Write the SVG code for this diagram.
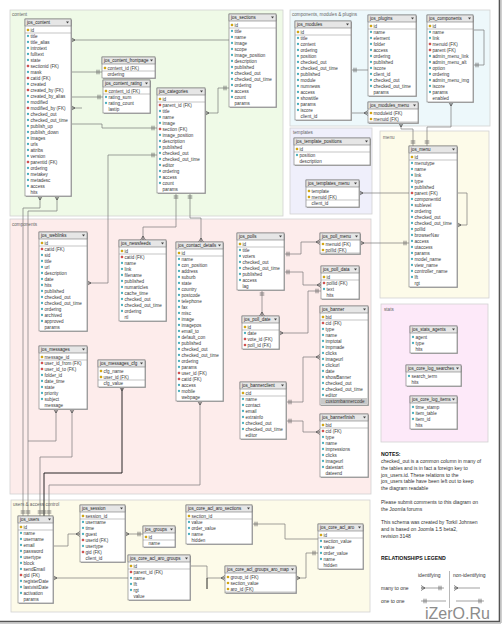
<svg xmlns="http://www.w3.org/2000/svg" width="504" height="629" viewBox="0 0 504 629">
<style>
text{font-family:"Liberation Sans",Arial,sans-serif}
.rg{stroke:#d2d2d2;stroke-width:.8}
.ht{font-size:4.5px;fill:#222}
.r{font-size:4.6px;fill:#3a3a3a}
.lb{font-size:4.6px;fill:#666}
.nt{font-size:5px;fill:#333}
.bd{font-size:5.2px;font-weight:bold;fill:#111}
.b{fill:#fff;stroke:#767676;stroke-width:.6}
.sh{fill:#b0b0b0}
.h{fill:#e6e6e6;stroke:#767676;stroke-width:.6}
.tr{fill:#444}
.s{stroke:#888;stroke-width:.5}
.d{stroke:#4aaebd;stroke-width:2.3;stroke-linecap:round;stroke-dasharray:0 6;fill:none}
.k{fill:#d2a514}
.f{fill:#d05050}
.c{fill:none;stroke:#7a7a7a;stroke-width:.7}
.cb{fill:none;stroke:#111;stroke-width:.9}
.mk{fill:none;stroke:#555;stroke-width:.7}
</style>
<defs>
<marker id="one" viewBox="-8 -4 10 8" markerWidth="10" markerHeight="8" refX="0" refY="0" orient="auto-start-reverse" markerUnits="userSpaceOnUse" overflow="visible"><path class="mk" d="M-3,-2.3V2.3M-5,-2.3V2.3"/></marker>
<marker id="many" viewBox="-8 -4 10 8" markerWidth="10" markerHeight="8" refX="0" refY="0" orient="auto-start-reverse" markerUnits="userSpaceOnUse" overflow="visible"><path class="mk" d="M0,-2.5L-4,0L0,2.5M-4,0H0"/></marker>
</defs>
<rect width="504" height="629" fill="#fff"/>
<g id="regions">
<rect class="rg" x="10" y="10" width="273" height="206" fill="#effae7"/>
<rect class="rg" x="290" y="10" width="200" height="116" fill="#edf8fb"/>
<rect class="rg" x="290" y="128" width="82" height="86" fill="#efeffb"/>
<rect class="rg" x="380" y="131" width="109" height="167" fill="#fdfbe9"/>
<rect class="rg" x="10" y="219" width="361" height="275" fill="#fdeceb"/>
<rect class="rg" x="381" y="304" width="107" height="138" fill="#fde9f9"/>
<rect class="rg" x="11" y="500" width="359" height="112" fill="#fdfbe9"/>
<text class="lb" x="12" y="16">content</text>
<text class="lb" x="292" y="16">components, modules &amp; plugins</text>
<text class="lb" x="293" y="134">templates</text>
<text class="lb" x="383" y="139">menu</text>
<text class="lb" x="12" y="226">components</text>
<text class="lb" x="384" y="311">stats</text>
<text class="lb" x="13" y="506">users &amp; access control</text>
</g>
<g id="connectors">
<path class="c" d="M71,40H229" marker-start="url(#many)"/>
<path class="c" d="M71,72H102" marker-end="url(#one)"/>
<path class="c" d="M71,97H103" marker-end="url(#one)"/>
<path class="c" d="M71,108H82" marker-start="url(#many)"/>
<path class="c" d="M71,124H102V128H157" marker-end="url(#one)"/>
<path class="c" d="M87,283H108V155H157" marker-start="url(#many)" marker-end="url(#one)"/>
<path class="c" d="M143,240V227H176V193" marker-start="url(#many)" marker-end="url(#one)"/>
<path class="c" d="M201,242V218H190V193" marker-start="url(#many)" marker-end="url(#one)"/>
<path class="c" d="M205,113H218V88H229" marker-start="url(#many)" marker-end="url(#one)"/>
<path class="c" d="M284,254H301V242H320" marker-start="url(#one)" marker-end="url(#many)"/>
<path class="c" d="M284,272H303V285H321" marker-start="url(#one)" marker-end="url(#many)"/>
<path class="c" d="M279,333H308V291H321" marker-start="url(#many)" marker-end="url(#one)"/>
<path class="c" d="M262,290V316" marker-start="url(#one)" marker-end="url(#many)"/>
<path class="c" d="M409,243H360" marker-start="url(#one)" marker-end="url(#many)"/>
<path class="c" d="M359,193H409" marker-start="url(#many)"/>
<path class="c" d="M457,193H467V225H457" marker-end="url(#many)"/>
<path class="c" d="M351,113H368" marker-end="url(#many)"/>
<path class="c" d="M351,70H368" marker-start="url(#one)"/>
<path class="c" d="M473,30H484V65H473" marker-end="url(#one)"/>
<path class="c" d="M401,123V129H413V146" marker-start="url(#many)" marker-end="url(#one)"/>
<path class="c" d="M451,102V127H427V146" marker-start="url(#many)" marker-end="url(#one)"/>
<path class="c" d="M286,402H303V357H320" marker-start="url(#one)" marker-end="url(#many)"/>
<path class="c" d="M286,421H303V432H320" marker-start="url(#one)" marker-end="url(#many)"/>
<path class="c" d="M40,196V208H23V516" marker-start="url(#many)" marker-end="url(#one)"/>
<path class="c" d="M57,196V211H28V516" marker-start="url(#many)" marker-end="url(#one)"/>
<path class="c" d="M72,409V457H40V516" marker-start="url(#many)" marker-end="url(#one)"/>
<path class="c" d="M56,409V441H28" marker-start="url(#many)"/>
<path class="cb" d="M122,387V473H44V516" marker-start="url(#many)" marker-end="url(#one)"/>
<path class="c" d="M200,401V485H49V516" marker-start="url(#many)" marker-end="url(#one)"/>
<path class="c" d="M80,534H68V546H53" marker-start="url(#many)"/>
<path class="c" d="M125,534H143" marker-start="url(#many)" marker-end="url(#one)"/>
<path class="c" d="M53,578H128" marker-start="url(#many)"/>
<path class="c" d="M190,566H207V578H225" marker-end="url(#many)"/>
<path class="cb" d="M207,578V589"/>
<path class="c" d="M296,578H306V553H318" marker-start="url(#many)" marker-end="url(#one)"/>
<path class="c" d="M252,524H285V539H318" marker-start="url(#one)"/>
</g>
<g id="jos_content" transform="translate(25,19)"><rect class="sh" x="1" y="1" width="46" height="177"/><rect class="b" width="46" height="177"/><rect class="h" width="46" height="7"/><path class="tr" d="M41,2.5h3l-1.5,2z"/><text class="ht" x="2" y="5.2">jos_content</text><line class="s" x1="0" y1="14" x2="46" y2="14"/><line class="d" x1="3" y1="11" x2="3" y2="173"/><circle class="k" cx="3" cy="11" r="1.3"/><circle class="f" cx="3" cy="47" r="1.3"/><circle class="f" cx="3" cy="59" r="1.3"/><circle class="f" cx="3" cy="71" r="1.3"/><circle class="f" cx="3" cy="89" r="1.3"/><circle class="f" cx="3" cy="143" r="1.3"/><text class="r" x="5.5" y="12.8">id<tspan x="5.5" dy="6">title</tspan><tspan x="5.5" dy="6">title_alias</tspan><tspan x="5.5" dy="6">introtext</tspan><tspan x="5.5" dy="6">fulltext</tspan><tspan x="5.5" dy="6">state</tspan><tspan x="5.5" dy="6">sectionid (FK)</tspan><tspan x="5.5" dy="6">mask</tspan><tspan x="5.5" dy="6">catid (FK)</tspan><tspan x="5.5" dy="6">created</tspan><tspan x="5.5" dy="6">created_by (FK)</tspan><tspan x="5.5" dy="6">created_by_alias</tspan><tspan x="5.5" dy="6">modified</tspan><tspan x="5.5" dy="6">modified_by (FK)</tspan><tspan x="5.5" dy="6">checked_out</tspan><tspan x="5.5" dy="6">checked_out_time</tspan><tspan x="5.5" dy="6">publish_up</tspan><tspan x="5.5" dy="6">publish_down</tspan><tspan x="5.5" dy="6">images</tspan><tspan x="5.5" dy="6">urls</tspan><tspan x="5.5" dy="6">attribs</tspan><tspan x="5.5" dy="6">version</tspan><tspan x="5.5" dy="6">parentid (FK)</tspan><tspan x="5.5" dy="6">ordering</tspan><tspan x="5.5" dy="6">metakey</tspan><tspan x="5.5" dy="6">metadesc</tspan><tspan x="5.5" dy="6">access</tspan><tspan x="5.5" dy="6">hits</tspan></text></g>
<g id="jos_content_frontpage" transform="translate(102,57)"><rect class="sh" x="1" y="1" width="53" height="21"/><rect class="b" width="53" height="21"/><rect class="h" width="53" height="7"/><path class="tr" d="M48,2.5h3l-1.5,2z"/><text class="ht" x="2" y="5.2">jos_content_frontpage</text><line class="s" x1="0" y1="14" x2="53" y2="14"/><line class="d" x1="3" y1="11" x2="3" y2="17"/><circle class="k" cx="3" cy="11" r="1.3"/><text class="r" x="5.5" y="12.8">content_id (FK)<tspan x="5.5" dy="6">ordering</tspan></text></g>
<g id="jos_content_rating" transform="translate(103,80)"><rect class="sh" x="1" y="1" width="47" height="33"/><rect class="b" width="47" height="33"/><rect class="h" width="47" height="7"/><path class="tr" d="M42,2.5h3l-1.5,2z"/><text class="ht" x="2" y="5.2">jos_content_rating</text><line class="s" x1="0" y1="14" x2="47" y2="14"/><line class="d" x1="3" y1="11" x2="3" y2="29"/><circle class="k" cx="3" cy="11" r="1.3"/><text class="r" x="5.5" y="12.8">content_id (FK)<tspan x="5.5" dy="6">rating_sum</tspan><tspan x="5.5" dy="6">rating_count</tspan><tspan x="5.5" dy="6">lastip</tspan></text></g>
<g id="jos_categories" transform="translate(157,88)"><rect class="sh" x="1" y="1" width="48" height="105"/><rect class="b" width="48" height="105"/><rect class="h" width="48" height="7"/><path class="tr" d="M43,2.5h3l-1.5,2z"/><text class="ht" x="2" y="5.2">jos_categories</text><line class="s" x1="0" y1="14" x2="48" y2="14"/><line class="d" x1="3" y1="11" x2="3" y2="101"/><circle class="k" cx="3" cy="11" r="1.3"/><circle class="f" cx="3" cy="17" r="1.3"/><circle class="f" cx="3" cy="41" r="1.3"/><text class="r" x="5.5" y="12.8">id<tspan x="5.5" dy="6">parent_id (FK)</tspan><tspan x="5.5" dy="6">title</tspan><tspan x="5.5" dy="6">name</tspan><tspan x="5.5" dy="6">image</tspan><tspan x="5.5" dy="6">section (FK)</tspan><tspan x="5.5" dy="6">image_position</tspan><tspan x="5.5" dy="6">description</tspan><tspan x="5.5" dy="6">published</tspan><tspan x="5.5" dy="6">checked_out</tspan><tspan x="5.5" dy="6">checked_out_time</tspan><tspan x="5.5" dy="6">editor</tspan><tspan x="5.5" dy="6">ordering</tspan><tspan x="5.5" dy="6">access</tspan><tspan x="5.5" dy="6">count</tspan><tspan x="5.5" dy="6">params</tspan></text></g>
<g id="jos_sections" transform="translate(229,14)"><rect class="sh" x="1" y="1" width="47" height="93"/><rect class="b" width="47" height="93"/><rect class="h" width="47" height="7"/><path class="tr" d="M42,2.5h3l-1.5,2z"/><text class="ht" x="2" y="5.2">jos_sections</text><line class="s" x1="0" y1="14" x2="47" y2="14"/><line class="d" x1="3" y1="11" x2="3" y2="89"/><circle class="k" cx="3" cy="11" r="1.3"/><text class="r" x="5.5" y="12.8">id<tspan x="5.5" dy="6">title</tspan><tspan x="5.5" dy="6">name</tspan><tspan x="5.5" dy="6">image</tspan><tspan x="5.5" dy="6">scope</tspan><tspan x="5.5" dy="6">image_position</tspan><tspan x="5.5" dy="6">description</tspan><tspan x="5.5" dy="6">published</tspan><tspan x="5.5" dy="6">checked_out</tspan><tspan x="5.5" dy="6">checked_out_time</tspan><tspan x="5.5" dy="6">ordering</tspan><tspan x="5.5" dy="6">access</tspan><tspan x="5.5" dy="6">count</tspan><tspan x="5.5" dy="6">params</tspan></text></g>
<g id="jos_modules" transform="translate(295,21)"><rect class="sh" x="1" y="1" width="56" height="99"/><rect class="b" width="56" height="99"/><rect class="h" width="56" height="7"/><path class="tr" d="M51,2.5h3l-1.5,2z"/><text class="ht" x="2" y="5.2">jos_modules</text><line class="s" x1="0" y1="14" x2="56" y2="14"/><line class="d" x1="3" y1="11" x2="3" y2="95"/><circle class="k" cx="3" cy="11" r="1.3"/><text class="r" x="5.5" y="12.8">id<tspan x="5.5" dy="6">title</tspan><tspan x="5.5" dy="6">content</tspan><tspan x="5.5" dy="6">ordering</tspan><tspan x="5.5" dy="6">position</tspan><tspan x="5.5" dy="6">checked_out</tspan><tspan x="5.5" dy="6">checked_out_time</tspan><tspan x="5.5" dy="6">published</tspan><tspan x="5.5" dy="6">module</tspan><tspan x="5.5" dy="6">numnews</tspan><tspan x="5.5" dy="6">access</tspan><tspan x="5.5" dy="6">showtitle</tspan><tspan x="5.5" dy="6">params</tspan><tspan x="5.5" dy="6">iscore</tspan><tspan x="5.5" dy="6">client_id</tspan></text></g>
<g id="jos_plugins" transform="translate(368,15)"><rect class="sh" x="1" y="1" width="48" height="81"/><rect class="b" width="48" height="81"/><rect class="h" width="48" height="7"/><path class="tr" d="M43,2.5h3l-1.5,2z"/><text class="ht" x="2" y="5.2">jos_plugins</text><line class="s" x1="0" y1="14" x2="48" y2="14"/><line class="d" x1="3" y1="11" x2="3" y2="77"/><circle class="k" cx="3" cy="11" r="1.3"/><text class="r" x="5.5" y="12.8">id<tspan x="5.5" dy="6">name</tspan><tspan x="5.5" dy="6">element</tspan><tspan x="5.5" dy="6">folder</tspan><tspan x="5.5" dy="6">access</tspan><tspan x="5.5" dy="6">ordering</tspan><tspan x="5.5" dy="6">published</tspan><tspan x="5.5" dy="6">iscore</tspan><tspan x="5.5" dy="6">client_id</tspan><tspan x="5.5" dy="6">checked_out</tspan><tspan x="5.5" dy="6">checked_out_time</tspan><tspan x="5.5" dy="6">params</tspan></text></g>
<g id="jos_components" transform="translate(427,15)"><rect class="sh" x="1" y="1" width="46" height="87"/><rect class="b" width="46" height="87"/><rect class="h" width="46" height="7"/><path class="tr" d="M41,2.5h3l-1.5,2z"/><text class="ht" x="2" y="5.2">jos_components</text><line class="s" x1="0" y1="14" x2="46" y2="14"/><line class="d" x1="3" y1="11" x2="3" y2="83"/><circle class="k" cx="3" cy="11" r="1.3"/><circle class="f" cx="3" cy="29" r="1.3"/><circle class="f" cx="3" cy="35" r="1.3"/><text class="r" x="5.5" y="12.8">id<tspan x="5.5" dy="6">name</tspan><tspan x="5.5" dy="6">link</tspan><tspan x="5.5" dy="6">menuid (FK)</tspan><tspan x="5.5" dy="6">parent (FK)</tspan><tspan x="5.5" dy="6">admin_menu_link</tspan><tspan x="5.5" dy="6">admin_menu_alt</tspan><tspan x="5.5" dy="6">option</tspan><tspan x="5.5" dy="6">ordering</tspan><tspan x="5.5" dy="6">admin_menu_img</tspan><tspan x="5.5" dy="6">iscore</tspan><tspan x="5.5" dy="6">params</tspan><tspan x="5.5" dy="6">enabled</tspan></text></g>
<g id="jos_modules_menu" transform="translate(368,102)"><rect class="sh" x="1" y="1" width="50" height="21"/><rect class="b" width="50" height="21"/><rect class="h" width="50" height="7"/><path class="tr" d="M45,2.5h3l-1.5,2z"/><text class="ht" x="2" y="5.2">jos_modules_menu</text><line class="s" x1="0" y1="20" x2="50" y2="20"/><circle class="k" cx="3" cy="11" r="1.3"/><circle class="k" cx="3" cy="17" r="1.3"/><text class="r" x="5.5" y="12.8">moduleid (FK)<tspan x="5.5" dy="6">menuid (FK)</tspan></text></g>
<g id="jos_template_positions" transform="translate(294,138)"><rect class="sh" x="1" y="1" width="76" height="27"/><rect class="b" width="76" height="27"/><rect class="h" width="76" height="7"/><path class="tr" d="M71,2.5h3l-1.5,2z"/><text class="ht" x="2" y="5.2">jos_template_positions</text><line class="s" x1="0" y1="14" x2="76" y2="14"/><line class="d" x1="3" y1="11" x2="3" y2="23"/><circle class="k" cx="3" cy="11" r="1.3"/><text class="r" x="5.5" y="12.8">id<tspan x="5.5" dy="6">position</tspan><tspan x="5.5" dy="6">description</tspan></text></g>
<g id="jos_templates_menu" transform="translate(306,180)"><rect class="sh" x="1" y="1" width="53" height="27"/><rect class="b" width="53" height="27"/><rect class="h" width="53" height="7"/><path class="tr" d="M48,2.5h3l-1.5,2z"/><text class="ht" x="2" y="5.2">jos_templates_menu</text><line class="s" x1="0" y1="20" x2="53" y2="20"/><line class="d" x1="3" y1="11" x2="3" y2="23"/><circle class="k" cx="3" cy="11" r="1.3"/><circle class="k" cx="3" cy="17" r="1.3"/><text class="r" x="5.5" y="12.8">template<tspan x="5.5" dy="6">menuid (FK)</tspan><tspan x="5.5" dy="6">client_id</tspan></text></g>
<g id="jos_menu" transform="translate(409,146)"><rect class="sh" x="1" y="1" width="48" height="141"/><rect class="b" width="48" height="141"/><rect class="h" width="48" height="7"/><path class="tr" d="M43,2.5h3l-1.5,2z"/><text class="ht" x="2" y="5.2">jos_menu</text><line class="s" x1="0" y1="14" x2="48" y2="14"/><line class="d" x1="3" y1="11" x2="3" y2="137"/><circle class="k" cx="3" cy="11" r="1.3"/><circle class="f" cx="3" cy="47" r="1.3"/><text class="r" x="5.5" y="12.8">id<tspan x="5.5" dy="6">menutype</tspan><tspan x="5.5" dy="6">name</tspan><tspan x="5.5" dy="6">link</tspan><tspan x="5.5" dy="6">type</tspan><tspan x="5.5" dy="6">published</tspan><tspan x="5.5" dy="6">parent (FK)</tspan><tspan x="5.5" dy="6">componentid</tspan><tspan x="5.5" dy="6">sublevel</tspan><tspan x="5.5" dy="6">ordering</tspan><tspan x="5.5" dy="6">checked_out</tspan><tspan x="5.5" dy="6">checked_out_time</tspan><tspan x="5.5" dy="6">pollid</tspan><tspan x="5.5" dy="6">browserNav</tspan><tspan x="5.5" dy="6">access</tspan><tspan x="5.5" dy="6">utaccess</tspan><tspan x="5.5" dy="6">params</tspan><tspan x="5.5" dy="6">model_name</tspan><tspan x="5.5" dy="6">view_name</tspan><tspan x="5.5" dy="6">controller_name</tspan><tspan x="5.5" dy="6">lft</tspan><tspan x="5.5" dy="6">rgt</tspan></text></g>
<g id="jos_weblinks" transform="translate(39,232)"><rect class="sh" x="1" y="1" width="48" height="99"/><rect class="b" width="48" height="99"/><rect class="h" width="48" height="7"/><path class="tr" d="M43,2.5h3l-1.5,2z"/><text class="ht" x="2" y="5.2">jos_weblinks</text><line class="s" x1="0" y1="14" x2="48" y2="14"/><line class="d" x1="3" y1="11" x2="3" y2="95"/><circle class="k" cx="3" cy="11" r="1.3"/><circle class="f" cx="3" cy="17" r="1.3"/><text class="r" x="5.5" y="12.8">id<tspan x="5.5" dy="6">catid (FK)</tspan><tspan x="5.5" dy="6">sid</tspan><tspan x="5.5" dy="6">title</tspan><tspan x="5.5" dy="6">url</tspan><tspan x="5.5" dy="6">description</tspan><tspan x="5.5" dy="6">date</tspan><tspan x="5.5" dy="6">hits</tspan><tspan x="5.5" dy="6">published</tspan><tspan x="5.5" dy="6">checked_out</tspan><tspan x="5.5" dy="6">checked_out_time</tspan><tspan x="5.5" dy="6">ordering</tspan><tspan x="5.5" dy="6">archived</tspan><tspan x="5.5" dy="6">approved</tspan><tspan x="5.5" dy="6">params</tspan></text></g>
<g id="jos_newsfeeds" transform="translate(119,240)"><rect class="sh" x="1" y="1" width="47" height="81"/><rect class="b" width="47" height="81"/><rect class="h" width="47" height="7"/><path class="tr" d="M42,2.5h3l-1.5,2z"/><text class="ht" x="2" y="5.2">jos_newsfeeds</text><line class="s" x1="0" y1="14" x2="47" y2="14"/><line class="d" x1="3" y1="11" x2="3" y2="77"/><circle class="k" cx="3" cy="11" r="1.3"/><circle class="f" cx="3" cy="17" r="1.3"/><text class="r" x="5.5" y="12.8">id<tspan x="5.5" dy="6">catid (FK)</tspan><tspan x="5.5" dy="6">name</tspan><tspan x="5.5" dy="6">link</tspan><tspan x="5.5" dy="6">filename</tspan><tspan x="5.5" dy="6">published</tspan><tspan x="5.5" dy="6">numarticles</tspan><tspan x="5.5" dy="6">cache_time</tspan><tspan x="5.5" dy="6">checked_out</tspan><tspan x="5.5" dy="6">checked_out_time</tspan><tspan x="5.5" dy="6">ordering</tspan><tspan x="5.5" dy="6">rtl</tspan></text></g>
<g id="jos_contact_details" transform="translate(176,242)"><rect class="sh" x="1" y="1" width="47" height="159"/><rect class="b" width="47" height="159"/><rect class="h" width="47" height="7"/><path class="tr" d="M42,2.5h3l-1.5,2z"/><text class="ht" x="2" y="5.2">jos_contact_details</text><line class="s" x1="0" y1="14" x2="47" y2="14"/><line class="d" x1="3" y1="11" x2="3" y2="155"/><circle class="k" cx="3" cy="11" r="1.3"/><circle class="f" cx="3" cy="131" r="1.3"/><circle class="f" cx="3" cy="137" r="1.3"/><text class="r" x="5.5" y="12.8">id<tspan x="5.5" dy="6">name</tspan><tspan x="5.5" dy="6">con_position</tspan><tspan x="5.5" dy="6">address</tspan><tspan x="5.5" dy="6">suburb</tspan><tspan x="5.5" dy="6">state</tspan><tspan x="5.5" dy="6">country</tspan><tspan x="5.5" dy="6">postcode</tspan><tspan x="5.5" dy="6">telephone</tspan><tspan x="5.5" dy="6">fax</tspan><tspan x="5.5" dy="6">misc</tspan><tspan x="5.5" dy="6">image</tspan><tspan x="5.5" dy="6">imagepos</tspan><tspan x="5.5" dy="6">email_to</tspan><tspan x="5.5" dy="6">default_con</tspan><tspan x="5.5" dy="6">published</tspan><tspan x="5.5" dy="6">checked_out</tspan><tspan x="5.5" dy="6">checked_out_time</tspan><tspan x="5.5" dy="6">ordering</tspan><tspan x="5.5" dy="6">params</tspan><tspan x="5.5" dy="6">user_id (FK)</tspan><tspan x="5.5" dy="6">catid (FK)</tspan><tspan x="5.5" dy="6">access</tspan><tspan x="5.5" dy="6">mobile</tspan><tspan x="5.5" dy="6">webpage</tspan></text></g>
<g id="jos_polls" transform="translate(237,233)"><rect class="sh" x="1" y="1" width="47" height="57"/><rect class="b" width="47" height="57"/><rect class="h" width="47" height="7"/><path class="tr" d="M42,2.5h3l-1.5,2z"/><text class="ht" x="2" y="5.2">jos_polls</text><line class="s" x1="0" y1="14" x2="47" y2="14"/><line class="d" x1="3" y1="11" x2="3" y2="53"/><circle class="k" cx="3" cy="11" r="1.3"/><text class="r" x="5.5" y="12.8">id<tspan x="5.5" dy="6">title</tspan><tspan x="5.5" dy="6">voters</tspan><tspan x="5.5" dy="6">checked_out</tspan><tspan x="5.5" dy="6">checked_out_time</tspan><tspan x="5.5" dy="6">published</tspan><tspan x="5.5" dy="6">access</tspan><tspan x="5.5" dy="6">lag</tspan></text></g>
<g id="jos_poll_menu" transform="translate(320,233)"><rect class="sh" x="1" y="1" width="40" height="21"/><rect class="b" width="40" height="21"/><rect class="h" width="40" height="7"/><path class="tr" d="M35,2.5h3l-1.5,2z"/><text class="ht" x="2" y="5.2">jos_poll_menu</text><line class="s" x1="0" y1="20" x2="40" y2="20"/><circle class="k" cx="3" cy="11" r="1.3"/><circle class="k" cx="3" cy="17" r="1.3"/><text class="r" x="5.5" y="12.8">menuid (FK)<tspan x="5.5" dy="6">pollid (FK)</tspan></text></g>
<g id="jos_poll_data" transform="translate(321,266)"><rect class="sh" x="1" y="1" width="38" height="33"/><rect class="b" width="38" height="33"/><rect class="h" width="38" height="7"/><path class="tr" d="M33,2.5h3l-1.5,2z"/><text class="ht" x="2" y="5.2">jos_poll_data</text><line class="s" x1="0" y1="14" x2="38" y2="14"/><line class="d" x1="3" y1="11" x2="3" y2="29"/><circle class="k" cx="3" cy="11" r="1.3"/><circle class="f" cx="3" cy="17" r="1.3"/><text class="r" x="5.5" y="12.8">id<tspan x="5.5" dy="6">pollid (FK)</tspan><tspan x="5.5" dy="6">text</tspan><tspan x="5.5" dy="6">hits</tspan></text></g>
<g id="jos_poll_date" transform="translate(242,316)"><rect class="sh" x="1" y="1" width="37" height="33"/><rect class="b" width="37" height="33"/><rect class="h" width="37" height="7"/><path class="tr" d="M32,2.5h3l-1.5,2z"/><text class="ht" x="2" y="5.2">jos_poll_date</text><line class="s" x1="0" y1="14" x2="37" y2="14"/><line class="d" x1="3" y1="11" x2="3" y2="29"/><circle class="k" cx="3" cy="11" r="1.3"/><circle class="f" cx="3" cy="23" r="1.3"/><circle class="f" cx="3" cy="29" r="1.3"/><text class="r" x="5.5" y="12.8">id<tspan x="5.5" dy="6">date</tspan><tspan x="5.5" dy="6">vote_id (FK)</tspan><tspan x="5.5" dy="6">poll_id (FK)</tspan></text></g>
<g id="jos_banner" transform="translate(320,306)"><rect class="sh" x="1" y="1" width="48" height="99"/><rect class="b" width="48" height="99"/><rect x="0.3" y="92" width="47.4" height="6" fill="#c9c9c9"/><rect class="h" width="48" height="7"/><path class="tr" d="M43,2.5h3l-1.5,2z"/><text class="ht" x="2" y="5.2">jos_banner</text><line class="s" x1="0" y1="14" x2="48" y2="14"/><line class="d" x1="3" y1="11" x2="3" y2="95"/><circle class="k" cx="3" cy="11" r="1.3"/><circle class="f" cx="3" cy="17" r="1.3"/><text class="r" x="5.5" y="12.8">bid<tspan x="5.5" dy="6">cid (FK)</tspan><tspan x="5.5" dy="6">type</tspan><tspan x="5.5" dy="6">name</tspan><tspan x="5.5" dy="6">imptotal</tspan><tspan x="5.5" dy="6">impmade</tspan><tspan x="5.5" dy="6">clicks</tspan><tspan x="5.5" dy="6">imageurl</tspan><tspan x="5.5" dy="6">clickurl</tspan><tspan x="5.5" dy="6">date</tspan><tspan x="5.5" dy="6">showBanner</tspan><tspan x="5.5" dy="6">checked_out</tspan><tspan x="5.5" dy="6">checked_out_time</tspan><tspan x="5.5" dy="6">editor</tspan><tspan x="5.5" dy="6">custombannercode</tspan></text></g>
<g id="jos_bannerclient" transform="translate(240,382)"><rect class="sh" x="1" y="1" width="46" height="57"/><rect class="b" width="46" height="57"/><rect class="h" width="46" height="7"/><path class="tr" d="M41,2.5h3l-1.5,2z"/><text class="ht" x="2" y="5.2">jos_bannerclient</text><line class="s" x1="0" y1="14" x2="46" y2="14"/><line class="d" x1="3" y1="11" x2="3" y2="53"/><circle class="k" cx="3" cy="11" r="1.3"/><text class="r" x="5.5" y="12.8">cid<tspan x="5.5" dy="6">name</tspan><tspan x="5.5" dy="6">contact</tspan><tspan x="5.5" dy="6">email</tspan><tspan x="5.5" dy="6">extrainfo</tspan><tspan x="5.5" dy="6">checked_out</tspan><tspan x="5.5" dy="6">checked_out_time</tspan><tspan x="5.5" dy="6">editor</tspan></text></g>
<g id="jos_bannerfinish" transform="translate(320,414)"><rect class="sh" x="1" y="1" width="48" height="63"/><rect class="b" width="48" height="63"/><rect class="h" width="48" height="7"/><path class="tr" d="M43,2.5h3l-1.5,2z"/><text class="ht" x="2" y="5.2">jos_bannerfinish</text><line class="s" x1="0" y1="14" x2="48" y2="14"/><line class="d" x1="3" y1="11" x2="3" y2="59"/><circle class="k" cx="3" cy="11" r="1.3"/><circle class="f" cx="3" cy="17" r="1.3"/><text class="r" x="5.5" y="12.8">bid<tspan x="5.5" dy="6">cid (FK)</tspan><tspan x="5.5" dy="6">type</tspan><tspan x="5.5" dy="6">name</tspan><tspan x="5.5" dy="6">impressions</tspan><tspan x="5.5" dy="6">clicks</tspan><tspan x="5.5" dy="6">imageurl</tspan><tspan x="5.5" dy="6">datestart</tspan><tspan x="5.5" dy="6">dateend</tspan></text></g>
<g id="jos_messages" transform="translate(39,346)"><rect class="sh" x="1" y="1" width="48" height="63"/><rect class="b" width="48" height="63"/><rect class="h" width="48" height="7"/><path class="tr" d="M43,2.5h3l-1.5,2z"/><text class="ht" x="2" y="5.2">jos_messages</text><line class="s" x1="0" y1="14" x2="48" y2="14"/><line class="d" x1="3" y1="11" x2="3" y2="59"/><circle class="k" cx="3" cy="11" r="1.3"/><circle class="f" cx="3" cy="17" r="1.3"/><circle class="f" cx="3" cy="23" r="1.3"/><text class="r" x="5.5" y="12.8">message_id<tspan x="5.5" dy="6">user_id_from (FK)</tspan><tspan x="5.5" dy="6">user_id_to (FK)</tspan><tspan x="5.5" dy="6">folder_id</tspan><tspan x="5.5" dy="6">date_time</tspan><tspan x="5.5" dy="6">state</tspan><tspan x="5.5" dy="6">priority</tspan><tspan x="5.5" dy="6">subject</tspan><tspan x="5.5" dy="6">message</tspan></text></g>
<g id="jos_messages_cfg" transform="translate(98,360)"><rect class="sh" x="1" y="1" width="47" height="27"/><rect class="b" width="47" height="27"/><rect class="h" width="47" height="7"/><path class="tr" d="M42,2.5h3l-1.5,2z"/><text class="ht" x="2" y="5.2">jos_messages_cfg</text><line class="s" x1="0" y1="20" x2="47" y2="20"/><line class="d" x1="3" y1="11" x2="3" y2="23"/><circle class="k" cx="3" cy="11" r="1.3"/><circle class="k" cx="3" cy="17" r="1.3"/><text class="r" x="5.5" y="12.8">cfg_name<tspan x="5.5" dy="6">user_id (FK)</tspan><tspan x="5.5" dy="6">cfg_value</tspan></text></g>
<g id="jos_stats_agents" transform="translate(410,326)"><rect class="sh" x="1" y="1" width="47" height="27"/><rect class="b" width="47" height="27"/><rect class="h" width="47" height="7"/><path class="tr" d="M42,2.5h3l-1.5,2z"/><text class="ht" x="2" y="5.2">jos_stats_agents</text><line class="d" x1="3" y1="11" x2="3" y2="23"/><text class="r" x="5.5" y="12.8">agent<tspan x="5.5" dy="6">type</tspan><tspan x="5.5" dy="6">hits</tspan></text></g>
<g id="jos_core_log_searches" transform="translate(406,365)"><rect class="sh" x="1" y="1" width="55" height="21"/><rect class="b" width="55" height="21"/><rect class="h" width="55" height="7"/><path class="tr" d="M50,2.5h3l-1.5,2z"/><text class="ht" x="2" y="5.2">jos_core_log_searches</text><line class="d" x1="3" y1="11" x2="3" y2="17"/><text class="r" x="5.5" y="12.8">search_term<tspan x="5.5" dy="6">hits</tspan></text></g>
<g id="jos_core_log_items" transform="translate(410,396)"><rect class="sh" x="1" y="1" width="47" height="33"/><rect class="b" width="47" height="33"/><rect class="h" width="47" height="7"/><path class="tr" d="M42,2.5h3l-1.5,2z"/><text class="ht" x="2" y="5.2">jos_core_log_items</text><line class="d" x1="3" y1="11" x2="3" y2="29"/><text class="r" x="5.5" y="12.8">time_stamp<tspan x="5.5" dy="6">item_table</tspan><tspan x="5.5" dy="6">item_id</tspan><tspan x="5.5" dy="6">hits</tspan></text></g>
<g id="jos_users" transform="translate(18,516)"><rect class="sh" x="1" y="1" width="35" height="87"/><rect class="b" width="35" height="87"/><rect class="h" width="35" height="7"/><path class="tr" d="M30,2.5h3l-1.5,2z"/><text class="ht" x="2" y="5.2">jos_users</text><line class="s" x1="0" y1="14" x2="35" y2="14"/><line class="d" x1="3" y1="11" x2="3" y2="83"/><circle class="k" cx="3" cy="11" r="1.3"/><circle class="f" cx="3" cy="59" r="1.3"/><text class="r" x="5.5" y="12.8">id<tspan x="5.5" dy="6">name</tspan><tspan x="5.5" dy="6">username</tspan><tspan x="5.5" dy="6">email</tspan><tspan x="5.5" dy="6">password</tspan><tspan x="5.5" dy="6">usertype</tspan><tspan x="5.5" dy="6">block</tspan><tspan x="5.5" dy="6">sendEmail</tspan><tspan x="5.5" dy="6">gid (FK)</tspan><tspan x="5.5" dy="6">registerDate</tspan><tspan x="5.5" dy="6">lastvisitDate</tspan><tspan x="5.5" dy="6">activation</tspan><tspan x="5.5" dy="6">params</tspan></text></g>
<g id="jos_session" transform="translate(80,505)"><rect class="sh" x="1" y="1" width="45" height="57"/><rect class="b" width="45" height="57"/><rect class="h" width="45" height="7"/><path class="tr" d="M40,2.5h3l-1.5,2z"/><text class="ht" x="2" y="5.2">jos_session</text><line class="s" x1="0" y1="14" x2="45" y2="14"/><line class="d" x1="3" y1="11" x2="3" y2="53"/><circle class="k" cx="3" cy="11" r="1.3"/><circle class="f" cx="3" cy="35" r="1.3"/><circle class="f" cx="3" cy="47" r="1.3"/><text class="r" x="5.5" y="12.8">session_id<tspan x="5.5" dy="6">username</tspan><tspan x="5.5" dy="6">time</tspan><tspan x="5.5" dy="6">guest</tspan><tspan x="5.5" dy="6">userid (FK)</tspan><tspan x="5.5" dy="6">usertype</tspan><tspan x="5.5" dy="6">gid (FK)</tspan><tspan x="5.5" dy="6">client_id</tspan></text></g>
<g id="jos_groups" transform="translate(143,526)"><rect class="sh" x="1" y="1" width="32" height="21"/><rect class="b" width="32" height="21"/><rect class="h" width="32" height="7"/><path class="tr" d="M27,2.5h3l-1.5,2z"/><text class="ht" x="2" y="5.2">jos_groups</text><line class="s" x1="0" y1="14" x2="32" y2="14"/><line class="d" x1="3" y1="11" x2="3" y2="17"/><circle class="k" cx="3" cy="11" r="1.3"/><text class="r" x="5.5" y="12.8">id<tspan x="5.5" dy="6">name</tspan></text></g>
<g id="jos_core_acl_aro_groups" transform="translate(128,555)"><rect class="sh" x="1" y="1" width="62" height="45"/><rect class="b" width="62" height="45"/><rect class="h" width="62" height="7"/><path class="tr" d="M57,2.5h3l-1.5,2z"/><text class="ht" x="2" y="5.2">jos_core_acl_aro_groups</text><line class="s" x1="0" y1="14" x2="62" y2="14"/><line class="d" x1="3" y1="11" x2="3" y2="41"/><circle class="k" cx="3" cy="11" r="1.3"/><circle class="f" cx="3" cy="17" r="1.3"/><text class="r" x="5.5" y="12.8">id<tspan x="5.5" dy="6">parent_id (FK)</tspan><tspan x="5.5" dy="6">name</tspan><tspan x="5.5" dy="6">lft</tspan><tspan x="5.5" dy="6">rgt</tspan><tspan x="5.5" dy="6">value</tspan></text></g>
<g id="jos_core_acl_aro_sections" transform="translate(186,505)"><rect class="sh" x="1" y="1" width="66" height="39"/><rect class="b" width="66" height="39"/><rect class="h" width="66" height="7"/><path class="tr" d="M61,2.5h3l-1.5,2z"/><text class="ht" x="2" y="5.2">jos_core_acl_aro_sections</text><line class="s" x1="0" y1="14" x2="66" y2="14"/><line class="d" x1="3" y1="11" x2="3" y2="35"/><circle class="k" cx="3" cy="11" r="1.3"/><text class="r" x="5.5" y="12.8">section_id<tspan x="5.5" dy="6">value</tspan><tspan x="5.5" dy="6">order_value</tspan><tspan x="5.5" dy="6">name</tspan><tspan x="5.5" dy="6">hidden</tspan></text></g>
<g id="jos_core_acl_groups_aro_map" transform="translate(225,566)"><rect class="sh" x="1" y="1" width="71" height="27"/><rect class="b" width="71" height="27"/><rect class="h" width="71" height="7"/><path class="tr" d="M66,2.5h3l-1.5,2z"/><text class="ht" x="2" y="5.2">jos_core_acl_groups_aro_map</text><line class="s" x1="0" y1="26" x2="71" y2="26"/><circle class="k" cx="3" cy="11" r="1.3"/><circle class="k" cx="3" cy="17" r="1.3"/><circle class="k" cx="3" cy="23" r="1.3"/><text class="r" x="5.5" y="12.8">group_id (FK)<tspan x="5.5" dy="6">section_value</tspan><tspan x="5.5" dy="6">aro_id (FK)</tspan></text></g>
<g id="jos_core_acl_aro" transform="translate(318,524)"><rect class="sh" x="1" y="1" width="45" height="45"/><rect class="b" width="45" height="45"/><rect class="h" width="45" height="7"/><path class="tr" d="M40,2.5h3l-1.5,2z"/><text class="ht" x="2" y="5.2">jos_core_acl_aro</text><line class="s" x1="0" y1="14" x2="45" y2="14"/><line class="d" x1="3" y1="11" x2="3" y2="41"/><circle class="k" cx="3" cy="11" r="1.3"/><text class="r" x="5.5" y="12.8">id<tspan x="5.5" dy="6">section_value</tspan><tspan x="5.5" dy="6">value</tspan><tspan x="5.5" dy="6">order_value</tspan><tspan x="5.5" dy="6">name</tspan><tspan x="5.5" dy="6">hidden</tspan></text></g>
<g id="notes">
<text class="bd" x="381" y="456">NOTES:</text>
<text class="nt" x="381" y="463">checked_out is a common column in many of<tspan x="381" dy="6.8">the tables and is in fact a foreign key to</tspan><tspan x="381" dy="6.8">jos_users.id. These relations to the</tspan><tspan x="381" dy="6.8">jos_users table have been left out to keep</tspan><tspan x="381" dy="6.8">the diagram readable</tspan></text>
<text class="nt" x="381" y="504">Please submit comments to this diagram on<tspan x="381" dy="6.8">the Joomla forums</tspan></text>
<text class="nt" x="381" y="524">This schema was created by Torkil Johnsen<tspan x="381" dy="6.8">and is based on Joomla 1.5 beta2,</tspan><tspan x="381" dy="6.8">revision 3148</tspan></text>
<text class="bd" x="381" y="560">RELATIONSHIPS LEGEND</text>
<text class="nt" x="418" y="577">identifying</text>
<text class="nt" x="453" y="577">non-identifying</text>
<line x1="449.5" y1="571" x2="449.5" y2="608" stroke="#888" stroke-width=".6"/>
<text class="nt" x="381" y="590">many to one</text>
<text class="nt" x="381" y="603">one to one</text>
<path class="c" d="M421,588H444" marker-start="url(#many)" marker-end="url(#one)"/>
<path class="c" d="M454,588H480" marker-start="url(#many)"/>
<path class="c" d="M421,601H446" marker-start="url(#one)"/>
<path class="c" d="M456,601H484" marker-end="url(#one)"/>
</g>
<text x="425" y="619" font-size="16" fill="#8c8c8c" font-family="Liberation Sans, Arial, sans-serif">iZerO.Ru</text>
<g id="frame">
<line x1="499.5" y1="0" x2="499.5" y2="622" stroke="#555" stroke-width="1.6"/>
<line x1="501" y1="0" x2="501" y2="623" stroke="#bbb" stroke-width="1.4"/>
<line x1="0" y1="621.5" x2="500" y2="621.5" stroke="#555" stroke-width="1.6"/>
<line x1="0" y1="623" x2="501" y2="623" stroke="#bbb" stroke-width="1.4"/>
</g>
</svg>
